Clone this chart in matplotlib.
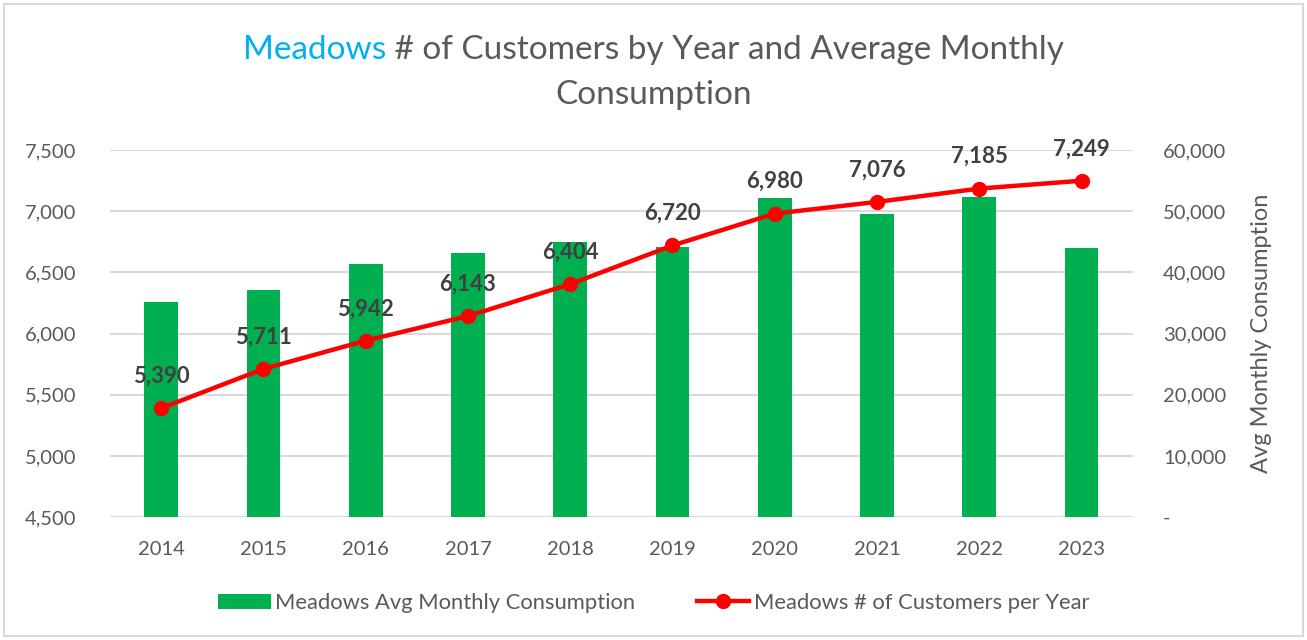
import matplotlib.pyplot as plt
from matplotlib.patches import Rectangle
from matplotlib.ticker import FuncFormatter

years = ["2014", "2015", "2016", "2017", "2018", "2019", "2020", "2021", "2022", "2023"]
avg_consumption = [35200, 37100, 41300, 43200, 44900, 44100, 52200, 49500, 52400, 44000]
customers = [5390, 5711, 5942, 6143, 6404, 6720, 6980, 7076, 7185, 7249]

GREEN = "#00B050"
RED = "#FF0000"
TEXT = "#595959"
GRID = "#D9D9D9"
TITLE_BLUE = "#00B0F0"

plt.rcParams["font.family"] = ["Lato", "DejaVu Sans"]

fig = plt.figure(figsize=(13.07, 6.4), dpi=100)
fig.patches.append(Rectangle((0.003, 0.006), 0.994, 0.988, transform=fig.transFigure,
                             fill=False, edgecolor=GRID, lw=1.5))

ax = fig.add_axes([0.0842, 0.192, 0.7824, 0.5736])
ax2 = ax.twinx()
x = list(range(len(years)))

# bars on the consumption axis (shown on the right)
bars = ax.bar(x, avg_consumption, width=0.33, color=GREEN, zorder=2,
              label="Meadows Avg Monthly Consumption")
ax.set_ylim(0, 60000)
ax.set_yticks(range(0, 60001, 10000))
ax.yaxis.tick_right()
ax.yaxis.set_label_position("right")
ax.yaxis.set_major_formatter(FuncFormatter(lambda v, _: "-" if v == 0 else f"{v:,.0f}"))
ax.set_ylabel("Avg Monthly Consumption", fontsize=17, color=TEXT, labelpad=18)
ax.grid(axis="y", color=GRID, lw=1.5)
ax.set_axisbelow(True)
ax.set_xlim(-0.5, 9.5)
ax.set_xticks(x)
ax.set_xticklabels(years)

# customers line on the left axis
line, = ax2.plot(x, customers, color=RED, lw=3.2, marker="o", ms=10, zorder=5,
                 label="Meadows # of Customers per Year")
ax2.set_ylim(4500, 7500)
ax2.set_yticks(range(4500, 7501, 500))
ax2.yaxis.tick_left()
ax2.yaxis.set_major_formatter(FuncFormatter(lambda v, _: f"{v:,.0f}"))
for xi, v in zip(x, customers):
    ax2.annotate(f"{v:,}", (xi, v), xytext=(0, 23), textcoords="offset points",
                 ha="center", va="center", fontsize=16, fontweight="bold", color="#404040")

for a in (ax, ax2):
    for s in a.spines.values():
        s.set_visible(False)
    a.tick_params(length=0, labelsize=14.5, colors=TEXT)
ax.tick_params(axis="x", pad=17)
ax.tick_params(axis="y", pad=22)
ax2.tick_params(axis="y", pad=24)

fig.legend(handles=[bars, line], loc="center", bbox_to_anchor=(0.5, 0.058), ncol=2,
           frameon=False, fontsize=15.8, labelcolor=TEXT, columnspacing=2.8,
           handlelength=2.4, handletextpad=0.2)

# two-tone title
fig.canvas.draw()
r = fig.canvas.get_renderer()
part1 = "Meadows"
part2 = " # of Customers by Year and Average Monthly"
t1 = fig.text(0, 0.922, part1, fontsize=24, color=TITLE_BLUE, va="center", ha="left")
t2 = fig.text(0, 0.922, part2, fontsize=24, color=TEXT, va="center", ha="left")
w1 = t1.get_window_extent(r).width / fig.bbox.width
w2 = t2.get_window_extent(r).width / fig.bbox.width
start = 0.5 - (w1 + w2) / 2
t1.set_x(start)
t2.set_x(start + w1)
fig.text(0.5, 0.852, "Consumption", fontsize=24, color=TEXT, va="center", ha="center")

fig.savefig("out.png", dpi=100)
